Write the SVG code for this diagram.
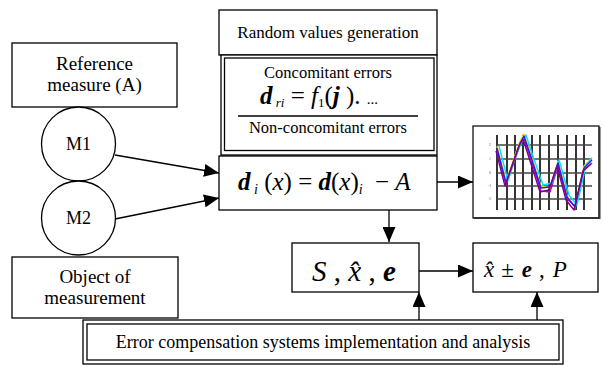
<svg xmlns="http://www.w3.org/2000/svg" width="603" height="366" viewBox="0 0 603 366" font-family="'Liberation Serif', 'DejaVu Serif', serif">
<style>
  .box{fill:#fff;stroke:#000;stroke-width:1.3}
  .ln{fill:none;stroke:#000;stroke-width:1.3}
  .t{fill:#000}
  .m{font-style:italic;fill:#000}
  .b{font-weight:bold}
  .grid{stroke:#000;stroke-width:1.6}
  .hgrid{stroke:#444;stroke-width:1.4}
  .tr{fill:none;stroke-width:1.4;stroke-linejoin:round}
</style>
<defs>
  <marker id="ah" markerUnits="userSpaceOnUse" markerWidth="15" markerHeight="13" refX="15" refY="6.5" orient="auto">
    <path d="M0,0 L15,6.5 L0,13 z" fill="#000"/>
  </marker>
</defs>
<rect width="603" height="366" fill="#fff"/>

<g id="reference">
  <rect class="box" x="12" y="43" width="165" height="64"/>
  <text class="t" x="94.5" y="70" font-size="19" text-anchor="middle">Reference</text>
  <text class="t" x="94.5" y="91" font-size="19" text-anchor="middle">measure (A)</text>
</g>
<g id="m1">
  <circle class="box" cx="78.5" cy="144" r="37"/>
  <text class="t" x="78.5" y="150" font-size="18" text-anchor="middle">M1</text>
</g>
<g id="m2">
  <circle class="box" cx="78.5" cy="218" r="37"/>
  <text class="t" x="78.5" y="224" font-size="18" text-anchor="middle">M2</text>
</g>
<g id="object">
  <rect class="box" x="12" y="257" width="166" height="61"/>
  <text class="t" x="95" y="283" font-size="19" text-anchor="middle">Object of</text>
  <text class="t" x="95" y="304" font-size="19" text-anchor="middle">measurement</text>
</g>

<g id="random">
  <rect class="box" x="219" y="10" width="218" height="45"/>
  <text class="t" x="328" y="38" font-size="17" text-anchor="middle">Random values generation</text>
  <rect class="box" x="221" y="55" width="216" height="100" stroke-width="1.6"/>
  <rect class="ln" x="224.5" y="58" width="209.5" height="92.5" stroke-width="1.2"/>
  <text class="t" x="328" y="78" font-size="16.5" text-anchor="middle">Concomitant errors</text>
  <text class="m" x="260" y="104" font-size="25"><tspan class="b">d</tspan><tspan font-size="13" dy="3"> ri</tspan><tspan dy="-3" font-style="normal"> = </tspan>f<tspan font-size="13" font-style="normal" dy="3">1</tspan><tspan dy="-3" font-style="normal">(</tspan><tspan class="b">j</tspan><tspan font-style="normal"> ). </tspan><tspan font-style="normal" font-size="15">...</tspan></text>
  <line class="ln" x1="238" y1="116" x2="418" y2="116"/>
  <text class="t" x="328" y="133" font-size="16.5" text-anchor="middle">Non-concomitant errors</text>
</g>

<g id="difference">
  <rect class="box" x="219" y="156" width="218" height="54"/>
  <text class="m" x="238" y="190" font-size="25"><tspan class="b">d</tspan><tspan font-size="14" dy="4"> i</tspan><tspan dy="-4" font-style="normal"> (</tspan>x<tspan font-style="normal">) = </tspan><tspan class="b">d</tspan><tspan font-style="normal">(</tspan>x<tspan font-style="normal">)</tspan><tspan font-size="14" dy="4">i</tspan><tspan dy="-4" dx="6" font-style="normal"> − </tspan>A</text>
</g>

<g id="chart">
  <rect x="473" y="126" width="126" height="92" fill="#fff" stroke="#000" stroke-width="1.2"/>
  <line x1="474" y1="218" x2="600" y2="218" stroke="#333" stroke-width="2.2"/>
  <line x1="599.5" y1="127" x2="599.5" y2="219" stroke="#333" stroke-width="2"/>
  <g class="grid">
    <line x1="497" y1="135" x2="497" y2="210"/>
    <line x1="507" y1="135" x2="507" y2="210"/>
    <line x1="515" y1="135" x2="515" y2="210"/>
    <line x1="523" y1="135" x2="523" y2="210"/>
    <line x1="532" y1="135" x2="532" y2="210"/>
    <line x1="540" y1="135" x2="540" y2="210"/>
    <line x1="549" y1="135" x2="549" y2="210"/>
    <line x1="558" y1="135" x2="558" y2="210"/>
    <line x1="567" y1="135" x2="567" y2="210"/>
    <line x1="576" y1="135" x2="576" y2="210"/>
    <line x1="584" y1="135" x2="584" y2="210"/>
  </g>
  <g class="hgrid">
    <line x1="497" y1="145" x2="592" y2="145"/>
    <line x1="497" y1="159" x2="592" y2="159"/>
    <line x1="497" y1="173" x2="592" y2="173"/>
    <line x1="497" y1="186" x2="592" y2="186"/>
    <line x1="497" y1="199" x2="592" y2="199"/>
  </g>
  <g font-size="4" fill="#666">
    <text x="489" y="146">2</text>
    <text x="489" y="160">1</text>
    <text x="489" y="174">0</text>
    <text x="488" y="187">-1</text>
    <text x="488" y="200">-2</text>
  </g>
  <polyline class="tr" stroke="#ffe000" points="497,146 506,181 514,158 520,141 524,134 532,158 541,186 550,188 558,161 567,195 575,208 584,166 592,158"/>
  <polyline class="tr" stroke="#c000c0" points="497,150 506,185 514,162 520,145 524,138 532,163 541,191 550,192 558,166 567,199 575,206 584,170 592,163"/>
  <polyline class="tr" stroke="#00e0ff" points="499,146 508,181 515,158 522,141 526,135 534,159 543,185 552,183 559,160 569,195 577,205 586,165 592,158"/>
  <polyline class="tr" stroke="#2020ff" points="497,148 506,183 514,160 520,143 524,136 532,160 541,188 550,187 558,163 567,197 575,207 584,168 592,160"/>
  <polyline class="tr" stroke="#800080" points="496,151 505,186 513,163 519,146 523,139 531,164 540,192 549,190 557,166 566,200 574,210 583,171 591,164"/>
</g>

<g id="estimate">
  <rect class="box" x="292" y="243" width="127" height="49"/>
  <text class="m" x="312" y="281" font-size="29">S<tspan font-style="normal"> , </tspan>x̂<tspan font-style="normal"> , </tspan><tspan class="b">e</tspan></text>
</g>

<g id="result">
  <rect class="box" x="473" y="243" width="125" height="49"/>
  <text class="m" x="484" y="277" font-size="23">x̂<tspan dx="7" font-style="normal">±</tspan><tspan dx="8" class="b">e</tspan><tspan dx="7" font-style="normal">,</tspan><tspan dx="8">P</tspan></text>
</g>

<g id="compensation">
  <rect class="box" x="83" y="320" width="480" height="44" stroke-width="1.6"/>
  <rect class="ln" x="87" y="324" width="472" height="36" stroke-width="1.3"/>
  <text class="t" x="323" y="348" font-size="18" text-anchor="middle">Error compensation systems implementation and analysis</text>
</g>

<g id="connectors" class="ln" marker-end="url(#ah)">
  <line x1="115" y1="155" x2="219" y2="173"/>
  <line x1="115" y1="219" x2="219" y2="198"/>
  <line x1="437" y1="182" x2="473" y2="182"/>
  <line x1="389" y1="210" x2="389" y2="242"/>
  <line x1="419" y1="271" x2="473" y2="271"/>
  <line x1="419" y1="320" x2="419" y2="292"/>
  <line x1="537" y1="320" x2="537" y2="292"/>
</g>
</svg>
